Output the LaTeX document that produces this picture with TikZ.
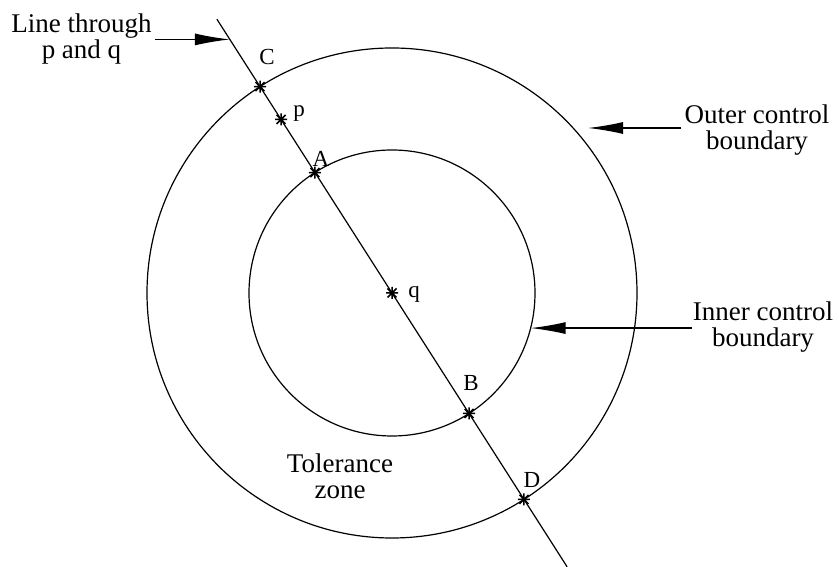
\documentclass[tikz,border=0pt]{standalone}
\usepackage{fontspec}
\setmainfont{Liberation Serif}
\usetikzlibrary{arrows.meta,calc}
\definecolor{TolInk}{RGB}{0,0,0}
\tikzset{
  tol/circle/.style={
    draw=TolInk,
    line width=1.2pt
  },
  tol/line/.style={draw=TolInk, line width=1.2pt},
  tol/arrow/.style={-{Latex[length=35pt,width=12pt]}, line width=1.3pt, draw=TolInk},
  tol/label/.style={
    font=\fontsize{27}{26}\selectfont,
    text=TolInk,
    align=center,
    inner sep=0pt,
    anchor=north
  },
  tol/ptlabel/.style={font=\fontsize{23}{23}\selectfont, text=TolInk, inner sep=0pt, anchor=base},
  astmark/.pic={
    \draw[TolInk, line width=1.5pt] (-6,0) -- (6,0) (0,-6) -- (0,6)
      (-4.5,-4.5) -- (4.5,4.5) (-4.5,4.5) -- (4.5,-4.5);
  }
}

\begin{document}
\begin{tikzpicture}[x=1pt,y=1pt]
  \useasboundingbox (0,0) rectangle (839,567);
  \coordinate (q) at (392,274);
  \draw[tol/circle] (q) circle[radius=245];
  \draw[tol/circle] (q) circle[radius=143];

  % line through p and q
  \coordinate (top) at ($(q)+(122.6:325)$);
  \coordinate (bot) at ($(q)+(-57.4:325)$);
  \draw[tol/line] (top) -- (bot);
  \coordinate (C) at ($(q)+(122.6:245)$);
  \coordinate (p) at ($(q)+(122.6:206)$);
  \coordinate (A) at ($(q)+(122.6:143)$);
  \coordinate (B) at ($(q)+(-57.4:143)$);
  \coordinate (D) at ($(q)+(-57.4:245)$);
  \foreach \pt in {C,p,A,q,B,D} {
    \pic at (\pt) {astmark};
  }
  \node[tol/ptlabel] (lC) at (267,502) {C};
  \node[tol/ptlabel] (lp) at (299,450) {p};
  \node[tol/ptlabel] (lA) at (321,400) {A};
  \node[tol/ptlabel] (lq) at (414,269) {q};
  \node[tol/ptlabel] (lB) at (471,176) {B};
  \node[tol/ptlabel] (lD) at (532,79) {D};

  % callouts
  \node[tol/label] (lineLbl) at (81.5,553) {Line through\\p and q};
  \node[tol/label] (outerLbl) at (757,462) {Outer control\\boundary};
  \node[tol/label] (innerLbl) at (763,265) {Inner control\\boundary};
  \node[tol/label] (zoneLbl) at (340,113) {Tolerance\\zone};

  \coordinate (lineHit) at ($(q)+(122.6:301)$);
  \coordinate (outerTip) at (588,439);
  \coordinate (innerTip) at ($(q)+(-14.2:143)$);
  \draw[tol/arrow] ([xshift=3pt]lineHit -| lineLbl.east) -- (lineHit);
  \draw[tol/arrow] ([xshift=-3pt]outerTip -| outerLbl.west) -- (outerTip);
  \draw[tol/arrow] ([xshift=-1pt]innerTip -| innerLbl.west) -- (innerTip);
\end{tikzpicture}
\end{document}
